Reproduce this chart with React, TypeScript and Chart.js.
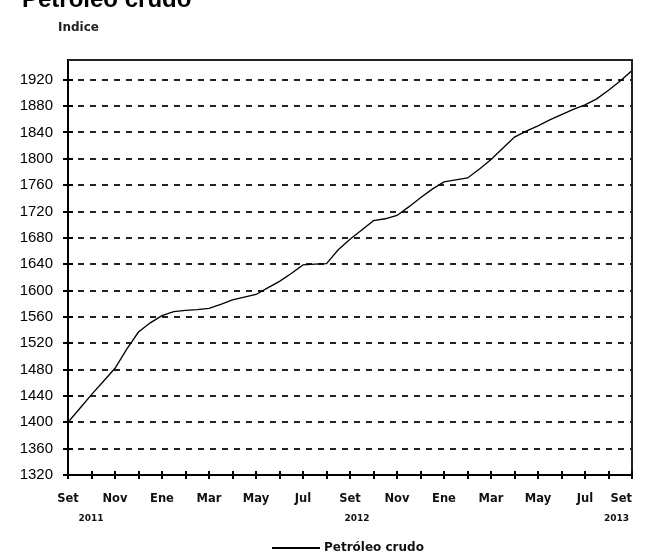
import React, { useEffect, useRef } from "react";
import { Chart, registerables } from "chart.js";

Chart.register(...registerables);

const TITLE = "Petróleo crudo";
const Y_TITLE = "Indice";
const SERIES_LABEL = "Petróleo crudo";

// month labels for Sep 2011 .. Sep 2013 (one per month)
const monthLabels = [
  "Set", "", "Nov", "", "Ene", "", "Mar", "", "May", "", "Jul", "",
  "Set", "", "Nov", "", "Ene", "", "Mar", "", "May", "", "Jul", "", "Set",
];
const yearLabels = ["2011", "2012", "2013"];
const yearMonthIndex = [0, 12, 24];

// semi-monthly index values, Sep 2011 .. Sep 2013
const indexValues = [
  1400, 1421, 1442, 1462, 1482, 1511, 1537, 1551, 1562, 1568,
  1570, 1571, 1573, 1579, 1586, 1590, 1594, 1604, 1614, 1626,
  1639, 1640, 1641, 1662, 1678, 1692, 1706, 1709, 1714, 1727,
  1741, 1754, 1765, 1768, 1771, 1784, 1799, 1816, 1833, 1842,
  1850, 1859, 1867, 1875, 1882, 1891, 1904, 1918, 1934,
];

const Y_MIN = 1320;
const Y_MAX = 1950;
const Y_STEP = 40;
const Y_LAST_TICK = 1920;

const decorPlugin = {
  id: "decor",
  afterDraw(chart: any) {
    const { ctx, chartArea: a, scales } = chart;
    const xs = scales.x;
    const ys = scales.y;
    ctx.save();

    // title (cut off at the top)
    ctx.fillStyle = "#000";
    ctx.textAlign = "left";
    ctx.textBaseline = "alphabetic";
    ctx.font = "bold 24px 'Liberation Sans', Arial, sans-serif";
    ctx.fillText(TITLE, 22, 7);

    // axis title
    ctx.font = "bold 12px 'DejaVu Sans', sans-serif";
    ctx.fillStyle = "#222";
    ctx.textBaseline = "middle";
    ctx.fillText(Y_TITLE, 58, 28);

    // top / right frame
    ctx.strokeStyle = "#222";
    ctx.lineWidth = 2;
    ctx.beginPath();
    ctx.moveTo(a.left, a.top);
    ctx.lineTo(a.right, a.top);
    ctx.lineTo(a.right, a.bottom);
    ctx.stroke();

    // cross tick marks
    ctx.strokeStyle = "#000";
    ctx.lineWidth = 2;
    monthLabels.forEach((_, i) => {
      const x = Math.round(xs.getPixelForValue(i));
      ctx.beginPath();
      ctx.moveTo(x, a.bottom - 4);
      ctx.lineTo(x, a.bottom + 4);
      ctx.stroke();
    });
    ys.ticks.forEach((t: any) => {
      const y = Math.round(ys.getPixelForValue(t.value));
      ctx.beginPath();
      ctx.moveTo(a.left - 5, y);
      ctx.lineTo(a.left + 5, y);
      ctx.stroke();
    });

    // month labels
    ctx.fillStyle = "#111";
    ctx.textAlign = "center";
    ctx.textBaseline = "middle";
    ctx.font = "bold 11.5px 'DejaVu Sans', sans-serif";
    monthLabels.forEach((lab, i) => {
      if (!lab) return;
      let x = xs.getPixelForValue(i);
      const w = ctx.measureText(lab).width;
      if (x + w / 2 > a.right) x = a.right - w / 2;
      ctx.fillText(lab, x, a.bottom + 24);
    });

    // year labels
    ctx.font = "bold 9px 'DejaVu Sans', sans-serif";
    const yearShift = [23, 7, 0];
    yearLabels.forEach((lab, i) => {
      let x = xs.getPixelForValue(yearMonthIndex[i]) + yearShift[i];
      const w = ctx.measureText(lab).width;
      if (x + w / 2 > a.right - 3) x = a.right - 3 - w / 2;
      ctx.fillText(lab, x, a.bottom + 44);
    });

    // legend
    const ds = chart.data.datasets[0];
    const cx = (a.left + a.right) / 2;
    const ly = 548;
    ctx.strokeStyle = ds.borderColor;
    ctx.lineWidth = 2;
    ctx.beginPath();
    ctx.moveTo(cx - 78, ly);
    ctx.lineTo(cx - 30, ly);
    ctx.stroke();
    ctx.fillStyle = "#111";
    ctx.textAlign = "left";
    ctx.font = "bold 12px 'DejaVu Sans', sans-serif";
    ctx.fillText(ds.label, cx - 26, ly);

    ctx.restore();
  },
};

export default function App() {
  const ref = useRef<HTMLCanvasElement | null>(null);

  useEffect(() => {
    document.body.style.margin = "0";
    const canvas = ref.current;
    if (!canvas) return;
    const chart = new Chart(canvas, {
      type: "line",
      data: {
        datasets: [
          {
            label: SERIES_LABEL,
            data: indexValues.map((v, i) => ({ x: i / 2, y: v })),
            borderColor: "#000",
            borderWidth: 1.3,
            pointRadius: 0,
            tension: 0,
            fill: false,
          },
        ],
      },
      options: {
        responsive: false,
        animation: false,
        layout: { padding: { top: 60, right: 14, left: 0, bottom: 0 } },
        plugins: {
          legend: { display: false },
          title: { display: false },
          tooltip: { enabled: false },
        },
        scales: {
          x: {
            type: "linear",
            min: 0,
            max: monthLabels.length - 1,
            afterFit: (s: any) => {
              s.height = 79;
            },
            ticks: { display: false, stepSize: 1 },
            grid: { display: false },
            border: { display: true, color: "#000", width: 2 },
          },
          y: {
            min: Y_MIN,
            max: Y_MAX,
            afterFit: (s: any) => {
              s.width = 68;
            },
            afterBuildTicks: (s: any) => {
              s.ticks = s.ticks.filter((t: any) => t.value <= Y_LAST_TICK);
            },
            ticks: {
              stepSize: Y_STEP,
              color: "#000",
              padding: 15,
              font: { family: "'Liberation Sans', Arial, sans-serif", size: 15 },
              callback: (v: any) => String(v),
            },
            grid: { color: "#222", lineWidth: 2, drawTicks: false },
            border: { display: true, color: "#000", width: 2, dash: [6, 6], dashOffset: 3 },
          },
        },
      },
      plugins: [decorPlugin],
    });
    return () => chart.destroy();
  }, []);

  return (
    <div style={{ width: 646, height: 554, background: "#fff" }}>
      <canvas ref={ref} width={646} height={554} />
    </div>
  );
}
